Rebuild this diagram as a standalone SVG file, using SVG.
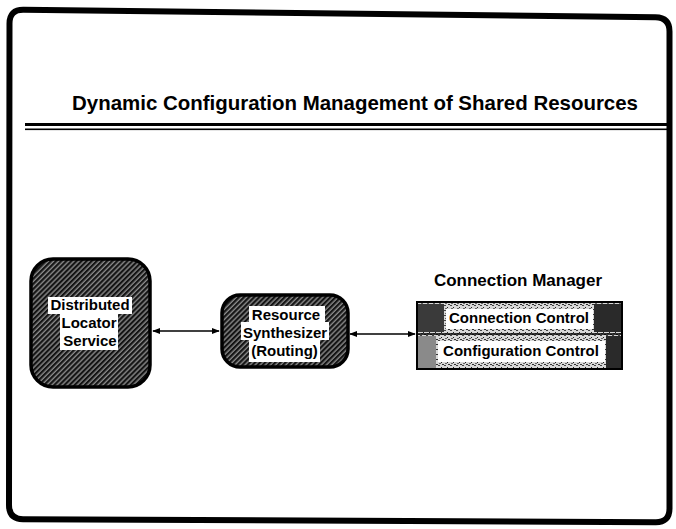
<svg xmlns="http://www.w3.org/2000/svg" width="676" height="529" viewBox="0 0 676 529">
  <style>
    .lbl { font-family: "Liberation Sans", Arial, sans-serif; font-weight: bold; font-size: 15px; fill: #000; text-anchor: middle; }
    .node { fill: url(#hatch); stroke: #000; stroke-width: 3.5; }
    .conn { stroke: #000; stroke-width: 1.6; fill: none; marker-start: url(#arrS); marker-end: url(#arrE); }
    .wbg { fill: #fff; }
  </style>
  <defs>
    <pattern id="hatch" width="3.6" height="3.6" patternUnits="userSpaceOnUse" patternTransform="rotate(45)">
      <rect width="3.6" height="3.6" fill="#8a8a8a"/>
      <rect width="2.2" height="3.6" fill="#141414"/>
    </pattern>
    <pattern id="speck" width="6" height="5" patternUnits="userSpaceOnUse">
      <rect width="6" height="5" fill="#d8d8d8"/>
      <rect x="0" y="0" width="2" height="1" fill="#444"/>
      <rect x="3" y="2" width="1" height="1" fill="#222"/>
      <rect x="1" y="3" width="2" height="1" fill="#666"/>
      <rect x="4" y="4" width="2" height="1" fill="#333"/>
    </pattern>
    <marker id="arrE" viewBox="0 0 10 10" refX="9" refY="5" markerWidth="5" markerHeight="5" orient="auto" markerUnits="strokeWidth">
      <path d="M0,1 L10,5 L0,9 Z" fill="#000"/>
    </marker>
    <marker id="arrS" viewBox="0 0 10 10" refX="1" refY="5" markerWidth="5" markerHeight="5" orient="auto" markerUnits="strokeWidth">
      <path d="M10,1 L0,5 L10,9 Z" fill="#000"/>
    </marker>
  </defs>

  <rect width="676" height="529" fill="#fff"/>

  <!-- outer frame -->
  <path d="M 23.5 9.7 L 655.5 17.3 Q 669.5 17.5 669.5 31.5 L 669.5 508.5 Q 669.5 522.5 655.5 522.3 L 23 519.2 Q 9 519 9 505 L 9.5 23.5 Q 9.5 9.5 23.5 9.7 Z" fill="none" stroke="#000" stroke-width="6"/>

  <!-- title -->
  <g id="title">
    <text x="72" y="110" font-family="'Liberation Sans', Arial, sans-serif" font-weight="bold" font-size="20.5" textLength="566" lengthAdjust="spacingAndGlyphs">Dynamic Configuration Management of Shared Resources</text>
    <rect x="25" y="123" width="644" height="3" fill="#000"/>
    <rect x="25" y="128.5" width="644" height="1.6" fill="#000"/>
  </g>

  <!-- connectors -->
  <g id="connectors">
    <line class="conn" x1="153" y1="331" x2="219" y2="331"/>
    <line class="conn" x1="350" y1="334" x2="415" y2="334"/>
  </g>

  <!-- Distributed Locator Service -->
  <g id="node-dls">
    <rect class="node" x="31" y="259" width="119" height="128" rx="22" ry="22"/>
    <rect class="wbg" x="48" y="297" width="84" height="17"/>
    <rect class="wbg" x="60" y="313" width="58" height="37"/>
    <text class="lbl" x="90" y="310">Distributed</text>
    <text class="lbl" x="89" y="328">Locator</text>
    <text class="lbl" x="90" y="346">Service</text>
  </g>

  <!-- Resource Synthesizer -->
  <g id="node-rs">
    <rect class="node" x="222" y="295" width="126" height="72" rx="18" ry="18"/>
    <rect class="wbg" x="249" y="306" width="76" height="17"/>
    <rect class="wbg" x="241" y="322" width="88" height="18"/>
    <rect class="wbg" x="249" y="339" width="71" height="23"/>
    <text class="lbl" x="286" y="320">Resource</text>
    <text class="lbl" x="285" y="338">Synthesizer</text>
    <text class="lbl" x="284.5" y="356">(Routing)</text>
  </g>

  <!-- Connection Manager -->
  <g id="node-cm">
    <text x="518" y="286" font-family="'Liberation Sans', Arial, sans-serif" font-weight="bold" font-size="17" text-anchor="middle">Connection Manager</text>
    <rect x="417" y="302" width="205" height="67" fill="url(#speck)" stroke="#000" stroke-width="2"/>
    <rect x="418" y="304" width="26" height="28" fill="#3a3a3a"/>
    <rect x="594" y="304" width="27" height="28" fill="#2a2a2a"/>
    <rect x="418" y="336" width="18" height="32" fill="#8a8a8a"/>
    <rect x="606" y="336" width="15" height="32" fill="#2a2a2a"/>
    <line x1="417" y1="334" x2="622" y2="334" stroke="#000" stroke-width="1.5"/>
    <rect class="wbg" x="446" y="309" width="147" height="20"/>
    <rect class="wbg" x="438" y="341" width="167" height="21"/>
    <text class="lbl" x="519" y="323">Connection Control</text>
    <text class="lbl" x="521" y="356">Configuration Control</text>
  </g>
</svg>
